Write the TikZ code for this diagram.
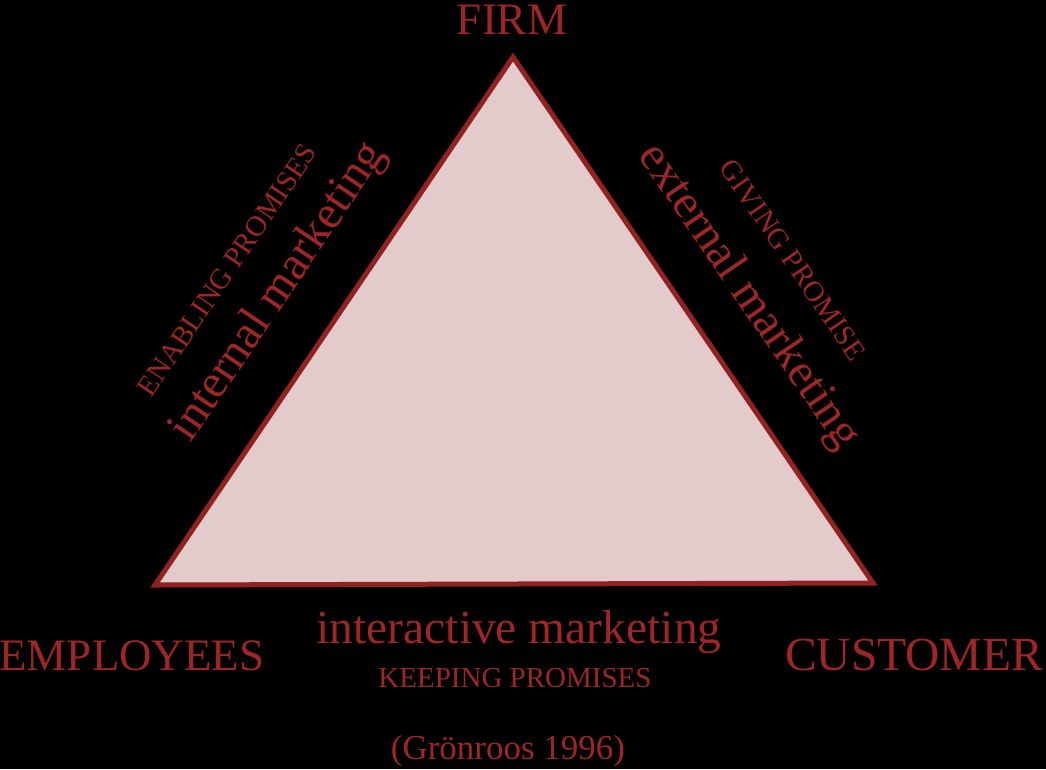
\documentclass[tikz,border=0pt]{standalone}
\usepackage{fontspec}
\setmainfont{Liberation Serif}
\definecolor{txtred}{RGB}{158,38,38}
\definecolor{edgered}{RGB}{146,34,34}
\definecolor{trifill}{RGB}{228,203,203}
\begin{document}
\begin{tikzpicture}[x=1pt,y=-1pt,
  lbl/.style={text=txtred,inner sep=0pt},
  big/.style={lbl,font=\fontsize{45}{50}\selectfont},
  mid/.style={lbl,font=\fontsize{47.5}{52}\selectfont},
  small/.style={lbl,font=\fontsize{29}{33}\selectfont}]
\fill[black] (0,0) rectangle (1046,769);
\useasboundingbox (0,0) rectangle (1046,769);
\coordinate (T) at (513,57);
\coordinate (L) at (155,585);
\coordinate (R) at (873,583);
\filldraw[fill=trifill,draw=edgered,line width=5pt,line join=miter] (T) -- (L) -- (R) -- cycle;
\node[big,anchor=base] (firm) at (512,34) {FIRM};
\node[big,anchor=base] (emp) at (132,670) {EMPLOYEES};
\node[lbl,font=\fontsize{47.5}{52}\selectfont,anchor=base] (cust) at (914,670) {CUSTOMER};
\node[mid,anchor=base] (inter) at (519,643) {interactive marketing};
\node[small,anchor=base] (keep) at (515,687) {KEEPING PROMISES};
\node[lbl,font=\fontsize{35}{40}\selectfont,anchor=base] (ref) at (508,759) {(Grönroos 1996)};
\node[mid,rotate=56] (intm) at (279,292) {internal marketing};
\node[small,rotate=56] (enab) at (227,270) {ENABLING PROMISES};
\node[mid,rotate=-55.6] (extm) at (748,297) {external marketing};
\node[small,rotate=-55.6] (give) at (793,260) {GIVING PROMISE};
\end{tikzpicture}
\end{document}
